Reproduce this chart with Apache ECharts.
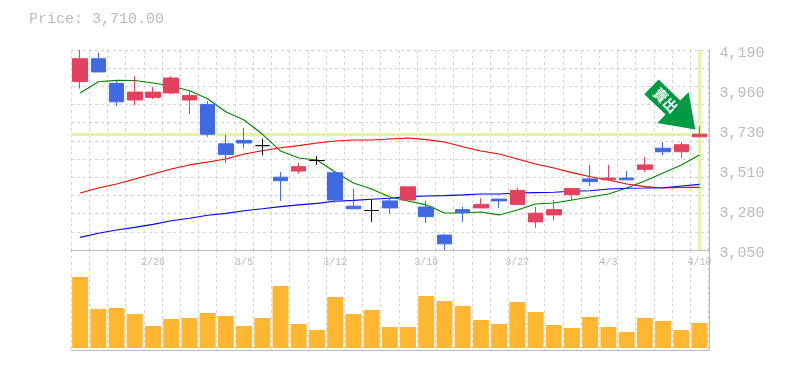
<!DOCTYPE html>
<html>
<head>
<meta charset="utf-8">
<style>html,body{margin:0;padding:0;background:#fff}#c{width:785px;height:370px}</style>
<script src="https://cdn.jsdelivr.net/npm/echarts@6/dist/echarts.min.js"></script>
</head>
<body>
<div id="c"></div>
<script>
const categories = ['2/20','2/21','2/22','2/23','2/26','2/27','2/28','3/1','3/2','3/5','3/6','3/7','3/8','3/9','3/12','3/13','3/14','3/15','3/16','3/19','3/20','3/21','3/22','3/23','3/27','3/28','3/29','3/30','4/2','4/3','4/4','4/5','4/6','4/9','4/10'];
const openValues  = [4010,4140,4000,3905,3920,3945,3905,3880,3655,3675,3645,3465,3500,3560,3490,3300,3275,3330,3335,3295,3135,3280,3290,3340,3310,3210,3250,3365,3455,3450,3460,3510,3630,3610,3695];
const closeValues = [4140,4065,3895,3950,3950,4030,3930,3710,3595,3660,3645,3445,3525,3560,3335,3285,3275,3290,3410,3240,3085,3265,3310,3330,3390,3260,3280,3400,3440,3460,3450,3535,3610,3650,3710];
const lowValues   = [3970,4065,3870,3875,3910,3940,3825,3695,3545,3630,3590,3330,3485,3535,3320,3285,3210,3255,3330,3205,3050,3210,3290,3290,3310,3175,3220,3330,3415,3445,3450,3495,3590,3575,3695];
const highValues  = [4190,4175,4015,4040,3980,4040,3955,3900,3705,3745,3685,3495,3545,3585,3490,3400,3340,3345,3410,3330,3140,3295,3345,3340,3405,3295,3335,3400,3535,3535,3500,3580,3665,3665,3755];
const ma5  = [3945,4009,4017,4016,4002,3985,3958,3912,3838,3791,3711,3614,3574,3563,3495,3432,3398,3352,3329,3307,3261,3261,3267,3250,3278,3312,3318,3335,3352,3369,3403,3443,3489,3535,3592];
const ma20 = [3375,3403,3426,3455,3483,3512,3535,3552,3569,3597,3616,3633,3645,3660,3671,3677,3677,3683,3688,3679,3666,3639,3614,3597,3569,3540,3517,3491,3468,3449,3426,3411,3403,3407,3407];
const ma60 = [3122,3145,3164,3179,3196,3217,3231,3248,3259,3274,3285,3297,3307,3316,3328,3333,3339,3345,3354,3358,3360,3364,3369,3369,3375,3377,3379,3385,3388,3398,3402,3403,3405,3415,3424];
const volumes = [71,39,40,34,22,29,30,35,32,22,30,62,24,18,51,34,38,21,21,52,47,42,28,24,46,36,23,20,31,21,16,30,27,18,25];
const priceTickLabels = ['3,050','3,280','3,510','3,730','3,960','4,190'];
const xLabelDates = ['2/26','3/5','3/12','3/19','3/27','4/3','4/10'];
const lastPrice = 3710;
const priceText = 'Price: 3,710.00';
const signalText = '賣出';

const FONT = '"Liberation Mono", monospace';
const GRAY = '#bbbbbb';
const dash = {color:'#d6d6d6', width:1, type:[3,3]};
const candles = categories.map((_,i)=>[openValues[i],closeValues[i],lowValues[i],highValues[i]]);
const lineSeries = (name,data,color,extra)=>Object.assign({name,type:'line',data,xAxisIndex:0,yAxisIndex:0,symbol:'none',silent:true,z:3,lineStyle:{color,width:1.1}},extra||{});

const chart = echarts.init(document.getElementById('c'),null,{renderer:'canvas'});
chart.setOption({
  animation:false,
  backgroundColor:'#fff',
  title:{text:priceText,left:24,top:7,textStyle:{fontFamily:FONT,fontSize:15,fontWeight:'normal',color:GRAY}},
  grid:[
    {left:71,top:50,width:637.6,height:200},
    {left:71,top:250,width:637.6,height:100}
  ],
  xAxis:[
    {type:'category',gridIndex:0,data:categories,boundaryGap:true,
     axisLine:{show:true,onZero:false,lineStyle:{color:GRAY,width:1}},axisTick:{show:false},
     axisLabel:{interval:0,margin:7,fontFamily:FONT,fontSize:10,color:GRAY,hideOverlap:false,
       formatter:v=>xLabelDates.includes(v)?v:''},
     splitLine:{show:true,interval:0,lineStyle:dash}},
    {type:'category',gridIndex:1,data:categories,boundaryGap:true,
     axisLine:{show:true,onZero:false,lineStyle:{color:GRAY,width:1}},axisTick:{show:false},axisLabel:{show:false},
     splitLine:{show:true,interval:0,lineStyle:dash}}
  ],
  yAxis:[
    {type:'value',gridIndex:0,min:3050,max:4190,show:false,splitLine:{show:false}},
    {type:'value',gridIndex:0,min:0,max:11,interval:1,position:'left',
     axisLine:{show:false},axisTick:{show:false},axisLabel:{show:false},splitLine:{show:true,lineStyle:dash}},
    {type:'value',gridIndex:0,min:0,max:5,interval:1,position:'right',offset:1,
     axisLine:{show:true,lineStyle:{color:GRAY,width:1}},axisTick:{show:false},splitLine:{show:false},
     axisLabel:{margin:10,fontFamily:FONT,fontSize:15,color:GRAY,verticalAlign:'top',lineHeight:6,
       showMinLabel:true,showMaxLabel:true,formatter:v=>priceTickLabels[v]}},
    {type:'value',gridIndex:1,min:-2,max:98,show:false,splitLine:{show:false}},
    {type:'value',gridIndex:1,min:0,max:1,interval:1,position:'right',offset:1,
     axisLine:{show:true,lineStyle:{color:GRAY,width:1}},axisTick:{show:false},axisLabel:{show:false},splitLine:{show:false}}
  ],
  series:[
    lineSeries('MA20',ma20,'#ff0000',{
      markLine:{silent:true,symbol:'none',z:1,animation:false,label:{show:false},
        lineStyle:{color:'#e5f3aa',width:3,type:'solid'},
        data:[{yAxis:lastPrice},{xAxis:categories[categories.length-1]}]}}),
    lineSeries('MA60',ma60,'#0000ff'),
    lineSeries('MA5',ma5,'#008000'),
    {type:'candlestick',name:'Price',data:candles,xAxisIndex:0,yAxisIndex:0,barWidth:15,z:5,silent:true,
     itemStyle:{color:'#e2425f',color0:'#4169e1',borderColor:'#e2425f',borderColor0:'#4169e1',borderColorDoji:'#000000',borderWidth:1},
     markPoint:{silent:true,z:10,animation:false,
       data:[{coord:[categories[categories.length-1],lastPrice],
         symbol:'path://M14.3 0L0 14.7L21.3 35L13 43.4L51 50L44.3 12.7L36 21Z',
         symbolSize:[51,50],symbolOffset:[-29.7,-29.7],symbolKeepAspect:false,
         itemStyle:{color:'#009944'},
         label:{show:true,formatter:signalText,position:'inside',rotate:-45,offset:[-6,0],
           fontFamily:'"Noto Sans CJK TC"',fontSize:14,fontWeight:'bold',color:'#fff'}}]}},
    {type:'bar',name:'Volume',data:volumes,xAxisIndex:1,yAxisIndex:3,barWidth:16,silent:true,itemStyle:{color:'#ffb732'}}
  ]
});
</script>
</body>
</html>
